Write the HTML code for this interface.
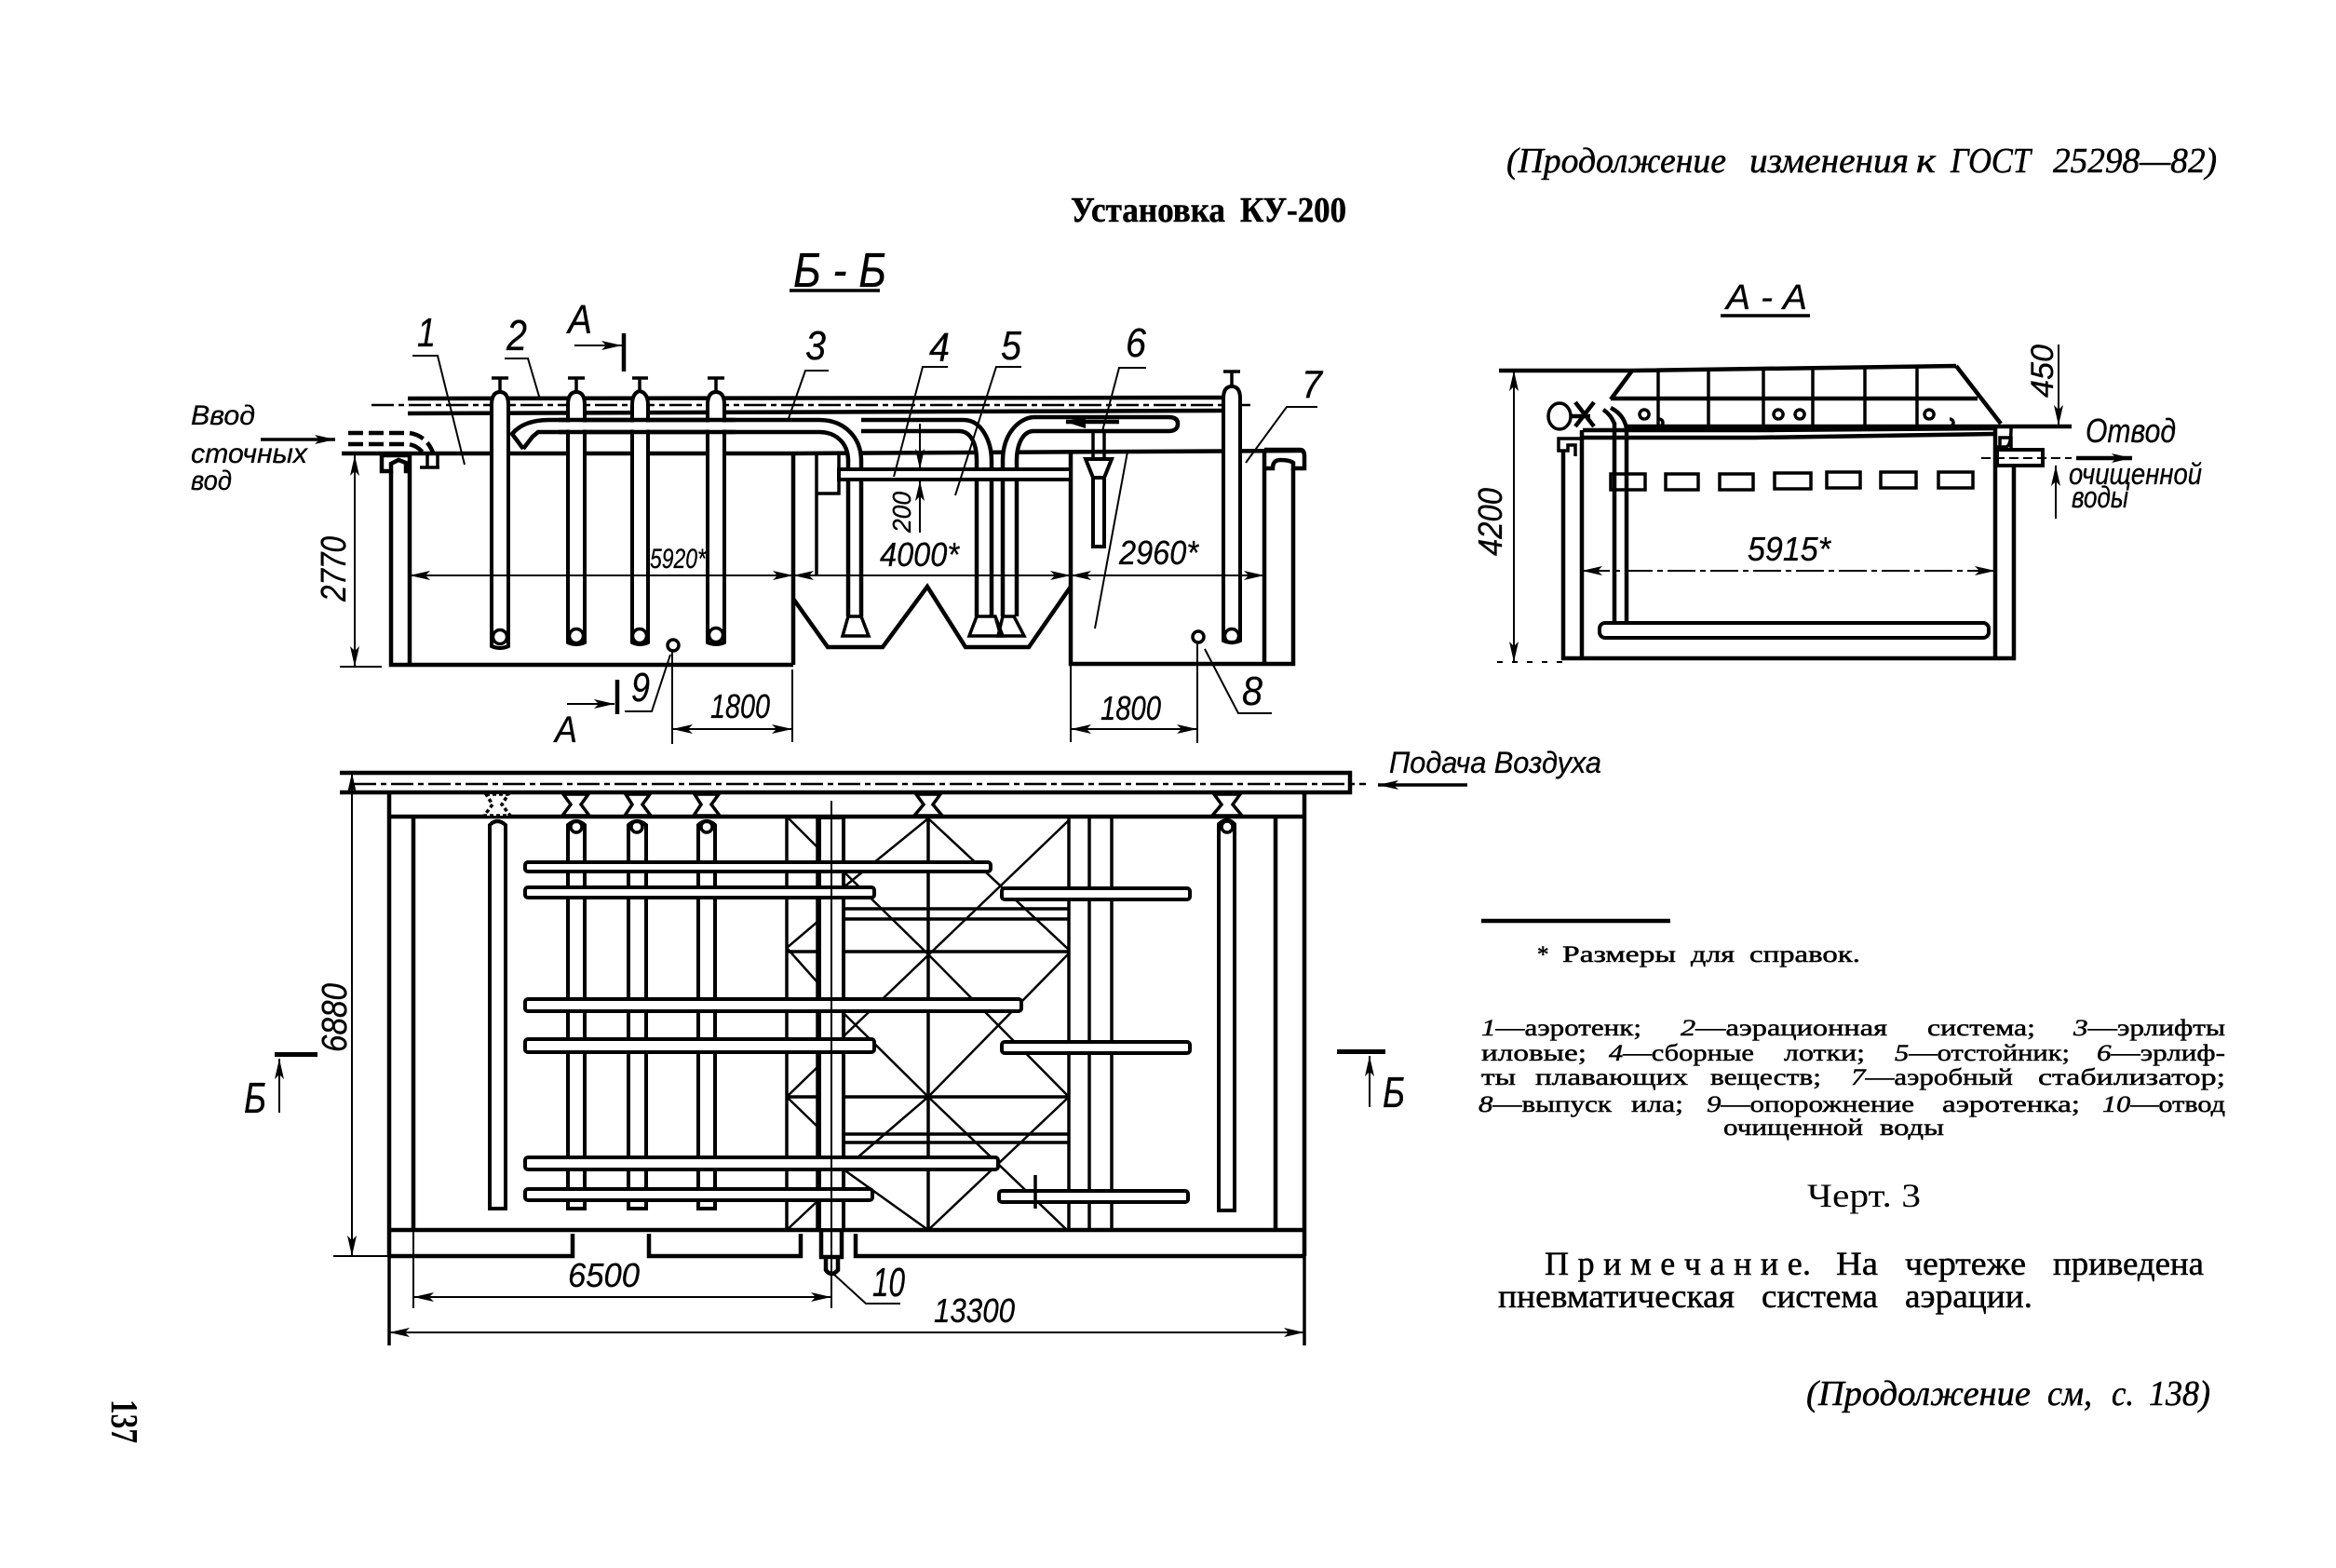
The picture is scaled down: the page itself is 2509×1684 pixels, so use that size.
<!DOCTYPE html>
<html lang="ru"><head><meta charset="utf-8"><title>Установка КУ-200</title>
<style>
html,body{margin:0;padding:0;background:#fff}
svg{display:block}
.t{stroke:#000;stroke-width:4.5;fill:none}
.m{stroke:#000;stroke-width:3.5;fill:none}
.f{stroke:#000;stroke-width:2;fill:none}
.w{stroke:#000;stroke-width:4;fill:#fff}
.d{stroke:#000;stroke-width:2.5;fill:none;stroke-dasharray:24 5 6 5}
text{fill:#000;font-family:"Liberation Serif",serif}
.h text{font-family:"Liberation Sans",sans-serif;font-style:italic;stroke:#000;stroke-width:.3}
.k text{stroke:#000;stroke-width:.5}
.i{font-style:italic}
.b{font-weight:bold}
</style></head><body>
<svg xmlns="http://www.w3.org/2000/svg" width="2509" height="1684" viewBox="0 0 2509 1684">
<defs>
<marker id="a" markerUnits="userSpaceOnUse" markerWidth="24" markerHeight="12" refX="22" refY="6" orient="auto-start-reverse"><path d="M0,1 L22,6 L0,11 L5,6 Z" fill="#000"/></marker>
</defs>
<rect width="2509" height="1684" fill="#fff"/>

<!-- ============ Section Б-Б ============ -->
<path class="t" d="M438,428 L1316,427 M438,444 L1316,441"/>
<path class="d" d="M399,435 H1346"/>
<path class="t" d="M367,487 L852,487 L1399,484"/>
<path class="t" d="M420,506 V714 H852 M440,489 V714"/>
<path class="t" d="M441,489 H410 V506 H420 V498 L428,494 L436,497 V506 H441"/>
<path class="m" d="M459,489 V501 M451,502 H472 M470,489 V501"/>
<path class="t" stroke-dasharray="16 6" d="M374,465 H440 Q458,468 465,486 M374,477 H438 Q448,478 455,487"/>
<path class="t" d="M852,487 V714 M852,643 L889,695 H948 L996,630 L1037,695 H1105 L1150,630"/>
<path class="m" d="M877,487 V618 M877,530 H901 V487"/>
<path class="t" d="M1150,485 V713 H1389 V503 M1358,485 V713"/>
<path class="t" d="M1358,483 H1396 Q1401,483 1401,490 V503 H1389 V497 Q1385,494 1375,494 Q1367,494 1367,503 H1358"/>
<path fill="#fff" stroke="none" d="M880,451 C915,451 925,470 925,495 V662 H911 V495 C911,472 895,463 880,463 Z"/>
<path class="t" d="M562,482 L550,466 C560,454 575,451 590,451 H880 C905,451 925,468 925,495 V662 M562,482 L572,469 L578,464 H880 C897,464 911,475 911,495 V662"/>
<path class="m" d="M911,662 H925 L933,683 H905 Z"/>
<path fill="#fff" stroke="none" d="M925,451 H1035 C1055,451 1065,475 1065,495 V662 H1049 V495 C1049,475 1035,463 1025,463 H925 Z"/>
<path class="t" d="M925,451 H1035 C1055,451 1065,475 1065,495 V662 M925,463 H1030 C1042,463 1049,475 1049,495 V662"/>
<path class="m" d="M1049,662 L1041,683 H1077 L1069,662 Z M1069,662 L1075,683"/>
<path fill="#fff" stroke="none" d="M1077,662 V495 C1077,465 1095,449 1110,448 H1255 Q1265,448 1265,455 Q1265,463 1255,463 H1110 C1100,463 1092,475 1092,495 V662 Z"/>
<path class="t" d="M1077,662 V495 C1077,465 1095,449 1110,448 H1255 Q1265,448 1265,455 Q1265,463 1255,463 H1110 C1100,463 1092,475 1092,495 V662"/>
<path class="m" d="M1077,662 H1089 L1100,683 H1072 Z"/>
<path class="t" d="M1145,453 L1202,453"/><path d="M1144,453 L1166,446 L1166,460 Z" fill="#000"/>
<rect class="w" x="901" y="504" width="249" height="11"/>
<path class="m" fill="#fff" d="M1174,463 V493 M1186,463 V493"/>
<path class="w" d="M1166,493 H1194 L1186,513 H1174 Z"/>
<path class="w" d="M1174,513 H1186 V587 H1174 Z"/>
<path class="w" d="M528,694 V435 Q528,421 537,421 Q546,421 546,435 V694 Q537,698 528,694 Z"/>
<path class="w" d="M610,690 V435 Q610,421 619,421 Q628,421 628,435 V452 H628 V690 Q619,694 610,690 Z"/>
<path class="w" d="M679,690 V435 Q679,422 687,420 Q696,422 696,435 V690 Q687,694 679,690 Z"/>
<path class="w" d="M760,690 V435 Q760,421 769,421 Q778,421 778,435 V690 Q769,694 760,690 Z"/>
<path class="w" d="M1314,688 V428 Q1314,415 1323,415 Q1332,415 1332,428 V688 Q1323,692 1314,688 Z"/>
<circle class="m" cx="537" cy="684" r="7.5"/><circle class="m" cx="619" cy="683" r="7.5"/><circle class="m" cx="687" cy="683" r="7.5"/><circle class="m" cx="769" cy="682" r="7.5"/><circle class="m" cx="1323" cy="683" r="7.5"/>
<path stroke="none" fill="#fff" d="M600,453.5 H790 V461.5 H600 Z"/>
<path class="t" d="M600,451 H790 M600,464 H790"/>
<path class="m" d="M528,406 H546 M537,406 V421 M610,406 H628 M619,406 V421 M679,406 H696 M687,406 V420 M760,406 H778 M769,406 V421 M1314,399 H1332 M1323,399 V415"/>
<path class="f" d="M443,382 H470 L499,499 M542,385 H567 L580,429 M890,398 H865 L846,452 M1018,394 H991 L960,512 M1097,394 H1070 L1026,532 M1231,395 H1202 L1184,463 M1211,485 L1176,675 M1415,437 H1382 L1338,497 M1366,766 H1330 L1294,697 M671,764 H700 L720,703"/>
<circle class="m" cx="723" cy="693" r="6"/><circle class="m" cx="1287" cy="684" r="6"/>
<path class="t" d="M670,358 V399 M663,730 V767"/>
<path class="f" marker-end="url(#a)" d="M617,371 H668"/>
<path class="f" marker-end="url(#a)" d="M609,756 H660"/>
<path class="m" marker-end="url(#a)" d="M280,472 H360"/>
<path class="f" marker-start="url(#a)" marker-end="url(#a)" d="M381,489 V716"/>
<path class="f" d="M365,716 H410 M367,487 H380"/>
<path class="f" marker-start="url(#a)" marker-end="url(#a)" d="M440,618 H852"/>
<path class="f" marker-start="url(#a)" marker-end="url(#a)" d="M852,618 H1150"/>
<path class="f" marker-start="url(#a)" marker-end="url(#a)" d="M1150,618 H1358"/>
<path class="f" d="M722,697 V799 M851,719 V797 M1150,714 V797 M1286,690 V798"/>
<path class="f" marker-start="url(#a)" marker-end="url(#a)" d="M722,783 H851"/>
<path class="f" marker-start="url(#a)" marker-end="url(#a)" d="M1150,783 H1286"/>
<path class="f" marker-end="url(#a)" d="M988,455 V504"/>
<path class="f" marker-end="url(#a)" d="M988,572 V516"/>

<!-- ============ Section А-А ============ -->
<path class="t" d="M1610,398 H1753 L2101,393 M1753,398 L1730,429 M2101,393 L2149,455 M1730,428 H2124"/>
<path class="m" d="M1781,396 V457 M1835,396 V457 M1894,396 V457 M1947,396 V457 M2003,395 V457 M2059,395 V457"/>
<path class="t" d="M1748,458 H2225 M1700,462 H1890 L2143,460 M1700,470 H1885 L2143,466"/>
<path class="t" d="M1679,485 V707 H2163 V500 M1699,462 V707 M2143,458 V707"/>
<path class="m" d="M1699,471 H1674 V484 H1684 V478 H1692 V490"/>
<path class="m" d="M2143,480 H2155 Q2160,478 2160,460 M2148,483 V470 H2160 V483"/>
<rect class="w" x="2145" y="483" width="49" height="17"/>
<path class="f" stroke-dasharray="10 5" d="M2128,492 H2225"/>
<path class="t" marker-end="url(#a)" d="M2230,492 H2290"/>
<g class="m">
<rect x="1730" y="509" width="37" height="17"/><rect x="1789" y="509" width="35" height="17"/><rect x="1847" y="509" width="36" height="17"/><rect x="1906" y="508" width="39" height="17"/><rect x="1962" y="507" width="36" height="17"/><rect x="2020" y="507" width="38" height="17"/><rect x="2082" y="507" width="37" height="17"/>
</g>
<path class="t" d="M1734,670 V455 Q1730,445 1722,440 M1747,670 V460 Q1744,445 1730,438"/>
<rect class="w" x="1718" y="669" width="418" height="16" rx="6"/>
<ellipse class="m" cx="1675" cy="447" rx="12" ry="14"/>
<path class="t" d="M1688,447 L1708,447 M1692,432 L1712,458 M1712,432 L1692,458"/>
<path class="m" d="M1766,450 a5,5 0 1 1 0.1,0 M1782,450 a4,4 0 0 1 0,8 M1910,450 a5,5 0 1 1 0.1,0 M1933,450 a5,5 0 1 1 0.1,0 M2072,450 a5,5 0 1 1 0.1,0 M2094,450 a4,4 0 0 1 0,8"/>
<path class="f" marker-start="url(#a)" marker-end="url(#a)" d="M1626,398 V711"/>
<path class="f" stroke-dasharray="6 10" d="M1608,711 H1680"/>
<path class="f" marker-end="url(#a)" d="M2211,370 V457"/>
<path class="f" marker-end="url(#a)" d="M2208,557 V500"/>
<path class="f" stroke-dasharray="30 5 6 5" marker-start="url(#a)" marker-end="url(#a)" d="M1699,613 H2143"/>

<!-- ============ Plan ============ -->
<path class="m" d="M418,851 V1445 M1401,851 V1445"/>
<path class="t" d="M418,877 H1400 M418,1321 H1400 M418,851 V1349 M1401,851 V1349"/>
<path class="t" d="M444,877 V1321 M1370,877 V1321"/>
<path class="t" d="M418,1349 H615 V1325 M697,1325 V1349 H860 V1325 M919,1325 V1349 H1401"/>
<path class="m" d="M845,877 V1321 M878,877 V1321 M906,877 V1321 M997,877 V1321 M1148,877 V1321 M1170,877 V1321 M1194,877 V1321"/>
<path class="m" d="M906,976 H1148 M906,987 H1148 M845,1022 H878 M906,1022 H1148 M845,1178 H878 M906,1178 H1148 M906,1218 H1148 M906,1227 H1148"/>
<g class="m" style="stroke-width:2.5">
<path d="M997,879 L1148,1020"/><path d="M1148,881 L906,1113"/><path d="M997,879 L906,953"/>
<path d="M906,936 L997,1025 L1148,1178"/><path d="M1148,1024 L997,1178 L906,1256"/>
<path d="M906,1088 L997,1178 L1146,1321"/><path d="M1148,1178 L997,1321"/><path d="M906,1256 L997,1321"/>
<path d="M845,877 L878,910 M845,1018 L878,990 M845,1018 L878,1055 M845,1178 L878,1146 M845,1178 L878,1210 M845,1321 L878,1290"/>
</g>
<path class="t" d="M365,830 H1450 V851 H365 M1450,830"/>
<path class="d" d="M380,842 H1467"/>
<path class="w" d="M526,1298 V886 Q534,878 543,886 V1298 Z"/>
<path class="w" d="M610,1298 V886 Q619,878 628,886 V1298 Z"/>
<path class="w" d="M675,1298 V886 Q684,878 694,886 V1298 Z"/>
<path class="w" d="M750,1298 V886 Q759,878 768,886 V1298 Z"/>
<path class="w" d="M1309,1300 V885 Q1318,877 1326,885 V1300 Z"/>
<circle class="m" cx="619" cy="888" r="6"/><circle class="m" cx="684" cy="888" r="6"/><circle class="m" cx="759" cy="888" r="6"/><circle class="m" cx="1318" cy="888" r="6"/>
<g class="m" style="fill:#fff">
<path d="M522,853 H546 L539,864 L548,876 H520 L529,864 Z" stroke-dasharray="4 3"/>
<path d="M605,853 H632 L624,864 L633,876 H604 L613,864 Z"/>
<path d="M672,853 H698 L690,864 L699,876 H671 L679,864 Z"/>
<path d="M746,853 H772 L764,864 L773,876 H745 L753,864 Z"/>
<path d="M984,853 H1010 L1002,864 L1012,876 H982 L992,864 Z"/>
<path d="M1304,853 H1332 L1324,864 L1334,876 H1302 L1312,864 Z"/>
</g>
<rect class="w" x="880" y="878" width="26" height="443"/>
<path class="t" fill="#fff" d="M882,1321 V1350 H904 V1321 M887,1350 V1364 Q893,1372 900,1364 V1350"/>
<rect class="w" x="564" y="926" width="500" height="10" rx="3"/>
<rect class="w" x="564" y="953" width="375" height="11" rx="3"/>
<rect class="w" x="564" y="1073" width="533" height="13" rx="3"/>
<rect class="w" x="564" y="1116" width="375" height="14" rx="3"/>
<rect class="w" x="564" y="1243" width="508" height="13" rx="3"/>
<rect class="w" x="564" y="1277" width="373" height="12" rx="3"/>
<rect class="w" x="1076" y="954" width="202" height="12" rx="3"/>
<rect class="w" x="1076" y="1119" width="202" height="12" rx="3"/>
<rect class="w" x="1073" y="1279" width="203" height="12" rx="3"/>
<path class="f" d="M893,860 V1405"/>
<path class="m" d="M1112,1262 V1298"/>
<path class="f" d="M444,1321 V1405 M365,830 H372 M358,1349 H418"/>
<path class="f" marker-start="url(#a)" marker-end="url(#a)" d="M378,830 V1349"/>
<path class="f" marker-start="url(#a)" marker-end="url(#a)" d="M444,1393 H893"/>
<path class="f" marker-start="url(#a)" marker-end="url(#a)" d="M418,1431 H1401"/>
<path class="f" d="M895,1368 L930,1400 H967"/>
<path class="m" marker-end="url(#a)" d="M1576,843 H1480"/>
<path d="M1436,1127 H1488 V1132 H1436 Z M295,1130 H341 V1135 H295 Z" fill="#000"/>
<path class="f" marker-end="url(#a)" d="M1471,1189 V1134"/>
<path class="f" marker-end="url(#a)" d="M300,1195 V1137"/>

<!-- ============ Diagram labels ============ -->
<g class="h">
<text x="852" y="308" font-size="52" textLength="100" lengthAdjust="spacingAndGlyphs">Б - Б</text>
<path class="m" d="M848,312 H945"/>
<text x="1854" y="332" font-size="38" textLength="87" lengthAdjust="spacingAndGlyphs">А - А</text>
<path class="m" d="M1848,339 H1944"/>
<text x="448" y="372" font-size="44" textLength="20" lengthAdjust="spacingAndGlyphs">1</text>
<text x="544" y="376" font-size="46" textLength="22" lengthAdjust="spacingAndGlyphs">2</text>
<text x="865" y="386" font-size="44" textLength="22" lengthAdjust="spacingAndGlyphs">3</text>
<text x="998" y="388" font-size="44" textLength="22" lengthAdjust="spacingAndGlyphs">4</text>
<text x="1075" y="386" font-size="44" textLength="22" lengthAdjust="spacingAndGlyphs">5</text>
<text x="1209" y="383" font-size="44" textLength="22" lengthAdjust="spacingAndGlyphs">6</text>
<text x="1398" y="427" font-size="42" textLength="22" lengthAdjust="spacingAndGlyphs">7</text>
<text x="1334" y="757" font-size="44" textLength="22" lengthAdjust="spacingAndGlyphs">8</text>
<text x="678" y="753" font-size="44" textLength="20" lengthAdjust="spacingAndGlyphs">9</text>
<text x="937" y="1392" font-size="44" textLength="35" lengthAdjust="spacingAndGlyphs">10</text>
<text x="610" y="358" font-size="44" textLength="26" lengthAdjust="spacingAndGlyphs">А</text>
<text x="596" y="797" font-size="40" textLength="24" lengthAdjust="spacingAndGlyphs">А</text>
<text x="205" y="456" font-size="30" textLength="69" lengthAdjust="spacingAndGlyphs">Ввод</text>
<text x="205" y="497" font-size="30" textLength="125" lengthAdjust="spacingAndGlyphs">сточных</text>
<text x="205" y="526" font-size="30" textLength="44" lengthAdjust="spacingAndGlyphs">вод</text>
<text x="698" y="610" font-size="30" textLength="60" lengthAdjust="spacingAndGlyphs">5920*</text>
<text x="945" y="608" font-size="36" textLength="85" lengthAdjust="spacingAndGlyphs">4000*</text>
<text x="1202" y="606" font-size="36" textLength="85" lengthAdjust="spacingAndGlyphs">2960*</text>
<text x="763" y="771" font-size="36" textLength="64" lengthAdjust="spacingAndGlyphs">1800</text>
<text x="1182" y="773" font-size="36" textLength="65" lengthAdjust="spacingAndGlyphs">1800</text>
<text x="1877" y="602" font-size="36" textLength="89" lengthAdjust="spacingAndGlyphs">5915*</text>
<text x="2240" y="475" font-size="36" textLength="97" lengthAdjust="spacingAndGlyphs">Отвод</text>
<text x="2222" y="520" font-size="32" textLength="143" lengthAdjust="spacingAndGlyphs">очищенной</text>
<text x="2225" y="545" font-size="32" textLength="61" lengthAdjust="spacingAndGlyphs">воды</text>
<text x="610" y="1382" font-size="36" textLength="77" lengthAdjust="spacingAndGlyphs">6500</text>
<text x="1003" y="1420" font-size="36" textLength="87" lengthAdjust="spacingAndGlyphs">13300</text>
<text x="1492" y="830" font-size="32" textLength="228" lengthAdjust="spacingAndGlyphs">Подача Воздуха</text>
<text x="1485" y="1189" font-size="46" textLength="24" lengthAdjust="spacingAndGlyphs">Б</text>
<text x="262" y="1195" font-size="46" textLength="24" lengthAdjust="spacingAndGlyphs">Б</text>
<text transform="translate(371,646) rotate(-90)" font-size="38" textLength="70" lengthAdjust="spacingAndGlyphs">2770</text>
<text transform="translate(978,572) rotate(-90)" font-size="28" textLength="44" lengthAdjust="spacingAndGlyphs">200</text>
<text transform="translate(1613,597) rotate(-90)" font-size="36" textLength="73" lengthAdjust="spacingAndGlyphs">4200</text>
<text transform="translate(2205,427) rotate(-90)" font-size="34" textLength="57" lengthAdjust="spacingAndGlyphs">450</text>
<text transform="translate(372,1130) rotate(-90)" font-size="38" textLength="74" lengthAdjust="spacingAndGlyphs">6880</text>
</g>

<!-- ============ Page text ============ -->
<g class="i k" font-size="38">
<text x="1618" y="185" textLength="236" lengthAdjust="spacingAndGlyphs">(Продолжение</text>
<text x="1879" y="185" textLength="171" lengthAdjust="spacingAndGlyphs">изменения</text>
<text x="2058" y="185" textLength="21" lengthAdjust="spacingAndGlyphs">к</text>
<text x="2095" y="185" textLength="86" lengthAdjust="spacingAndGlyphs">ГОСТ</text>
<text x="2205" y="185" textLength="176" lengthAdjust="spacingAndGlyphs">25298—82)</text>
<text x="1940" y="1509" textLength="241" lengthAdjust="spacingAndGlyphs">(Продолжение</text>
<text x="2199" y="1509" textLength="48" lengthAdjust="spacingAndGlyphs">см,</text>
<text x="2268" y="1509" textLength="24" lengthAdjust="spacingAndGlyphs">с.</text>
<text x="2308" y="1509" textLength="66" lengthAdjust="spacingAndGlyphs">138)</text>
</g>
<g class="b k" font-size="38">
<text x="1150" y="238" textLength="166" lengthAdjust="spacingAndGlyphs">Установка</text>
<text x="1332" y="238" textLength="114" lengthAdjust="spacingAndGlyphs">КУ-200</text>
</g>
<path class="t" d="M1591,989 H1794"/>
<g class="k" font-size="25">
<text x="1651" y="1033">*</text>
<text x="1678" y="1033" textLength="122" lengthAdjust="spacingAndGlyphs">Размеры</text>
<text x="1816" y="1033" textLength="47" lengthAdjust="spacingAndGlyphs">для</text>
<text x="1879" y="1033" textLength="119" lengthAdjust="spacingAndGlyphs">справок.</text>
</g>
<g class="k" font-size="25">
<text x="1591" y="1112" textLength="172" lengthAdjust="spacingAndGlyphs"><tspan class="i">1</tspan>—аэротенк;</text>
<text x="1805" y="1112" textLength="222" lengthAdjust="spacingAndGlyphs"><tspan class="i">2</tspan>—аэрационная</text>
<text x="2070" y="1112" textLength="116" lengthAdjust="spacingAndGlyphs">система;</text>
<text x="2227" y="1112" textLength="163" lengthAdjust="spacingAndGlyphs"><tspan class="i">3</tspan>—эрлифты</text>
<text x="1591" y="1139" textLength="113" lengthAdjust="spacingAndGlyphs">иловые;</text>
<text x="1728" y="1139" textLength="156" lengthAdjust="spacingAndGlyphs"><tspan class="i">4</tspan>—сборные</text>
<text x="1916" y="1139" textLength="87" lengthAdjust="spacingAndGlyphs">лотки;</text>
<text x="2035" y="1139" textLength="188" lengthAdjust="spacingAndGlyphs"><tspan class="i">5</tspan>—отстойник;</text>
<text x="2252" y="1139" textLength="138" lengthAdjust="spacingAndGlyphs"><tspan class="i">6</tspan>—эрлиф-</text>
<text x="1591" y="1165" textLength="37" lengthAdjust="spacingAndGlyphs">ты</text>
<text x="1649" y="1165" textLength="164" lengthAdjust="spacingAndGlyphs">плавающих</text>
<text x="1837" y="1165" textLength="119" lengthAdjust="spacingAndGlyphs">веществ;</text>
<text x="1988" y="1165" textLength="174" lengthAdjust="spacingAndGlyphs"><tspan class="i">7</tspan>—аэробный</text>
<text x="2189" y="1165" textLength="201" lengthAdjust="spacingAndGlyphs">стабилизатор;</text>
<text x="1588" y="1194" textLength="143" lengthAdjust="spacingAndGlyphs"><tspan class="i">8</tspan>—выпуск</text>
<text x="1752" y="1194" textLength="56" lengthAdjust="spacingAndGlyphs">ила;</text>
<text x="1833" y="1194" textLength="223" lengthAdjust="spacingAndGlyphs"><tspan class="i">9</tspan>—опорожнение</text>
<text x="2086" y="1194" textLength="148" lengthAdjust="spacingAndGlyphs">аэротенка;</text>
<text x="2258" y="1194" textLength="132" lengthAdjust="spacingAndGlyphs"><tspan class="i">10</tspan>—отвод</text>
<text x="1851" y="1219" textLength="150" lengthAdjust="spacingAndGlyphs">очищенной</text>
<text x="2019" y="1219" textLength="69" lengthAdjust="spacingAndGlyphs">воды</text>
</g>
<text x="1941" y="1296" font-size="36" textLength="122" lengthAdjust="spacingAndGlyphs">Черт. 3</text>
<g class="k" font-size="36">
<text x="1659" y="1369" textLength="286">П р и м е ч а н и е.</text>
<text x="1972" y="1369" textLength="45" lengthAdjust="spacingAndGlyphs">На</text>
<text x="2046" y="1369" textLength="130" lengthAdjust="spacingAndGlyphs">чертеже</text>
<text x="2205" y="1369" textLength="162" lengthAdjust="spacingAndGlyphs">приведена</text>
<text x="1609" y="1404" textLength="254" lengthAdjust="spacingAndGlyphs">пневматическая</text>
<text x="1892" y="1404" textLength="125" lengthAdjust="spacingAndGlyphs">система</text>
<text x="2046" y="1404" textLength="137" lengthAdjust="spacingAndGlyphs">аэрации.</text>
</g>
<text transform="translate(120,1503) rotate(90)" font-size="41" font-weight="bold" textLength="47" lengthAdjust="spacingAndGlyphs">137</text>
</svg>
</body></html>
